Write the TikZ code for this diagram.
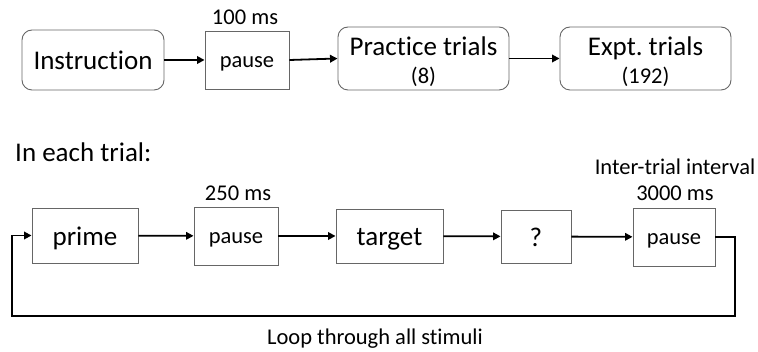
\documentclass[tikz,border=0pt]{standalone}
\usepackage{fontspec}
\setmainfont[Ligatures=NoCommon]{Carlito}
\usetikzlibrary{arrows.meta}
\newcommand\bigtxt{\fontsize{27}{28}\selectfont}
\newcommand\smalltxt{\fontsize{22.5}{28}\selectfont}
\frenchspacing
\begin{document}
\begin{tikzpicture}[x=1pt,y=-1pt,
  box/.style={draw=black!60, line width=0.9pt, inner sep=0pt, align=center},
  bigone/.style={box, font=\bigtxt, text height=24pt, text depth=4pt},
  smallone/.style={box, font=\smalltxt, text height=20pt, text depth=4pt},
  rbox/.style={rounded corners=10pt},
  lbl/.style={inner sep=0pt, font=\smalltxt},
  arr/.style={line width=1.8pt, -{Triangle[length=7.5pt,width=7.5pt]}}]
\useasboundingbox (0,0) rectangle (758,352);

% top row: overall session
\node[bigone, rbox, minimum width=142pt, minimum height=60pt] (instr) at (93,60) {Instruction};
\node[smallone, minimum width=84pt, minimum height=58pt] (p1) at (247,60) {pause};
\node[lbl] (t100) at (245,17) {100 ms};
\node[box, rbox, minimum width=171pt, minimum height=63pt, font=\smalltxt] (prac) at (423.5,58.5)
  {{\bigtxt\rule{0pt}{25pt}Practice trials}\\{\smalltxt (8)}};
\node[box, rbox, minimum width=171pt, minimum height=63pt, font=\smalltxt] (expt) at (645.5,58.5)
  {{\bigtxt\rule{0pt}{25pt}Expt. trials}\\{\smalltxt (192)}};

\draw[arr] (instr) -- (p1);
\draw[arr] (p1.east) -- (prac.west);
\draw[arr] (prac) -- (expt);

% bottom row: a single trial
\node[anchor=west, inner sep=0pt, font=\bigtxt] (each) at (15,152) {In each trial:};

\node[bigone, minimum width=106pt, minimum height=55pt] (prime) at (85,235.5) {prime};
\node[smallone, minimum width=84pt, minimum height=58pt] (p2) at (236,236) {pause};
\node[lbl] (t250) at (238,193) {250 ms};
\node[bigone, minimum width=107pt, minimum height=54pt] (target) at (389.5,236) {target};
\node[bigone, minimum width=70pt, minimum height=53pt] (q) at (536,236.5) {?};
\node[smallone, minimum width=82pt, minimum height=58pt] (p3) at (674,237) {pause};
\node[lbl] (iti) at (675,167) {Inter-trial interval};
\node[lbl] (t3000) at (675,193) {3000 ms};

\draw[arr] (prime) -- (p2);
\draw[arr] (p2) -- (target);
\draw[arr] (target) -- (q);
\draw[arr] (q) -- (p3);

% loop back to the first step
\coordinate (loopR) at (735,316);
\coordinate (loopL) at (12,316);
\draw[arr] (p3.east) -| (loopR) -- (loopL) |- (prime.west);
\node[lbl] (looptxt) at (375,339) {Loop through all stimuli};
\end{tikzpicture}
\end{document}
